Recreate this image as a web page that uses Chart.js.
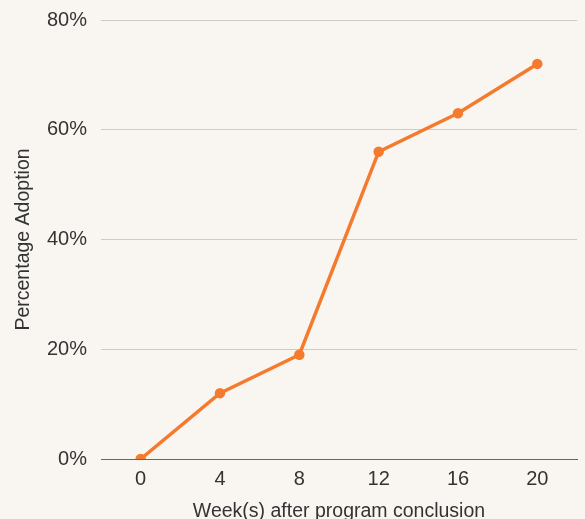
<!DOCTYPE html>
<html>
<head>
<meta charset="utf-8">
<script src="https://cdn.jsdelivr.net/npm/chart.js@4"></script>
<style>
  html, body { margin: 0; padding: 0; background: #f9f6f1; }
  #wrap { width: 585px; height: 519px; }
</style>
</head>
<body>
<div id="wrap"><canvas id="adoptionChart"></canvas></div>
<script>
// weeks after program conclusion
const weeks = ["0", "4", "8", "12", "16", "20"];
// percentage adoption at each week
const adoption = [0, 12, 19, 56, 63, 72];
const yTicks = [0, 20, 40, 60, 80];

const ctx = document.getElementById("adoptionChart").getContext("2d");
new Chart(ctx, {
	type: "line",
	data: {
		labels: weeks,
		datasets: [
			{
				label: "Adoption",
				data: adoption,
				borderColor: "#f47b2e",
				backgroundColor: "#f47b2e",
				borderWidth: 3.5,
				pointRadius: 3.5,
				pointHoverRadius: 4,
				tension: 0,
			},
		],
	},
	options: {
		responsive: true,
		maintainAspectRatio: false,
		animation: false,
		layout: { padding: { top: 0, right: 8, left: 0, bottom: 0 } },
		plugins: {
			legend: { display: false },
			tooltip: { enabled: false },
		},
		scales: {
			x: {
				offset: true,
				afterFit: (scale) => { scale.height = 60; },
				grid: { display: false, drawTicks: false },
				border: { display: true, color: "#6b6560", width: 1 },
				ticks: {
					color: "#333",
					font: { family: "Liberation Sans", size: 20 },
					padding: 8,
				},
				title: {
					display: true,
					text: "Week(s) after program conclusion",
					color: "#333",
					font: { family: "Liberation Sans", size: 19.5 },
					padding: { top: 0, bottom: -4 },
				},
			},
			y: {
				min: 0,
				max: 80,
				afterFit: (scale) => {
					scale.width = 101;
					scale.paddingTop = 20;
				},
				afterBuildTicks: (scale) => {
					scale.ticks = yTicks.map((v) => ({ value: v }));
				},
				grid: { color: "#cfcac4", drawTicks: false },
				border: { display: false },
				ticks: {
					color: "#333",
					font: { family: "Liberation Sans", size: 20 },
					padding: 14,
					callback: (v) => v + "%",
				},
				title: {
					display: true,
					text: "Percentage Adoption",
					color: "#333",
					font: { family: "Liberation Sans", size: 19.5 },
					padding: { top: 12, bottom: 4 },
				},
			},
		},
	},
});
</script>
</body>
</html>
